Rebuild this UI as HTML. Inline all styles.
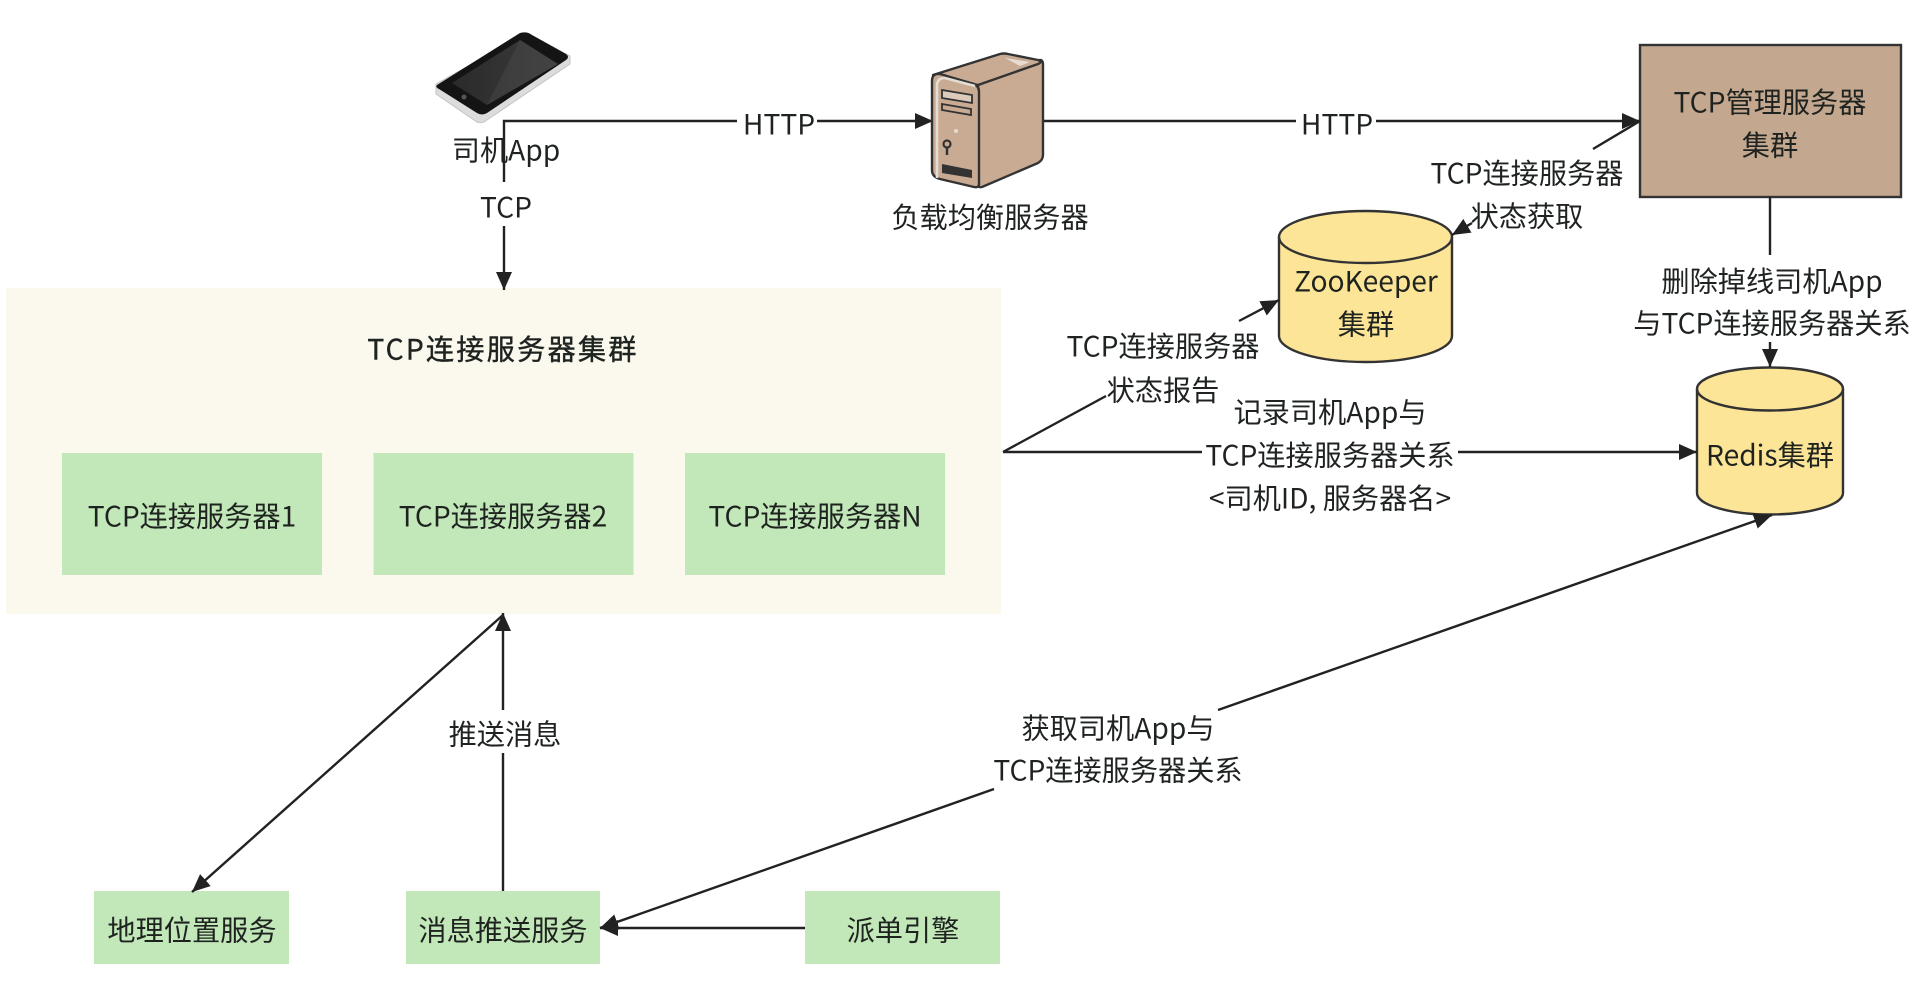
<!DOCTYPE html>
<html lang="zh">
<head>
<meta charset="utf-8">
<title>TCP连接服务器架构</title>
<style>
html,body{margin:0;padding:0;background:#fff;width:1920px;height:982px;overflow:hidden}
svg{display:block}
text{font-family:"Noto Sans CJK SC","Liberation Sans",sans-serif;font-size:28.2px;fill:#1f2320;text-anchor:middle;dominant-baseline:central}
.l{stroke:#222;stroke-width:2.4;fill:none}
.cyl{fill:#fde598;stroke:#333;stroke-width:2.4}
</style>
</head>
<body>
<svg width="1920" height="982" viewBox="0 0 1920 982" xmlns="http://www.w3.org/2000/svg">
<defs>
<marker id="a" markerUnits="userSpaceOnUse" markerWidth="18" markerHeight="16" refX="18" refY="8" orient="auto-start-reverse"><path d="M0,0L18,8L0,16z" fill="#222"/></marker>
<linearGradient id="scr" x1="0" y1="0" x2="1" y2="0"><stop offset="0" stop-color="#2a2a2a"/><stop offset="1" stop-color="#3c3c3c"/></linearGradient>
</defs>

<!-- cluster -->
<rect x="6" y="288" width="995" height="326" fill="#fbf8ee"/>
<rect x="62" y="453" width="260" height="122" fill="#c2e8b9"/>
<rect x="373.500" y="453" width="260" height="122" fill="#c2e8b9"/>
<rect x="685" y="453" width="260" height="122" fill="#c2e8b9"/>
<text x="503" y="348" style="letter-spacing:2.2px;stroke:#1f2320;stroke-width:.4px">TCP连接服务器集群</text>
<text x="192" y="515">TCP连接服务器1</text>
<text x="503" y="515">TCP连接服务器2</text>
<text x="815" y="515">TCP连接服务器N</text>

<!-- bottom boxes -->
<rect x="94" y="891" width="195" height="73" fill="#c2e8b9"/>
<rect x="406" y="891" width="194" height="73" fill="#c2e8b9"/>
<rect x="805" y="891" width="195" height="73" fill="#c2e8b9"/>
<text x="192" y="929">地理位置服务</text>
<text x="503" y="929">消息推送服务</text>
<text x="903" y="929">派单引擎</text>

<!-- brown box -->
<rect x="1640" y="45" width="261" height="152" fill="#c4a78f" stroke="#333" stroke-width="2.400"/>
<text x="1770" y="101">TCP管理服务器</text>
<text x="1770" y="144">集群</text>

<!-- cylinders -->
<path class="cyl" d="M1279,237V336A86.500,26 0 0 0 1452,336V237A86.500,26 0 0 0 1279,237Z"/>
<path class="l" style="stroke:#333" d="M1279,237A86.500,26 0 0 0 1452,237"/>
<text x="1366" y="280">ZooKeeper</text>
<text x="1366" y="323">集群</text>

<path class="cyl" d="M1697,389V493A73,21.500 0 0 0 1843,493V389A73,21.500 0 0 0 1697,389Z"/>
<path class="l" style="stroke:#333" d="M1697,389A73,21.500 0 0 0 1843,389"/>
<text x="1770" y="454">Redis集群</text>

<!-- connectors -->
<path class="l" d="M504,182V121H737"/>
<path class="l" d="M817,121H933" marker-end="url(#a)"/>
<path class="l" d="M504,226V290" marker-end="url(#a)"/>
<path class="l" d="M1042,121H1296"/>
<path class="l" d="M1376,121H1640" marker-end="url(#a)"/>
<path class="l" d="M1640,121L1593,149"/>
<path class="l" d="M1472,223L1452,235" marker-end="url(#a)"/>
<path class="l" d="M1770,197V255"/>
<path class="l" d="M1770,342V367" marker-end="url(#a)"/>
<path class="l" d="M1003,452L1106,396"/>
<path class="l" d="M1239,321L1279,300" marker-end="url(#a)"/>
<path class="l" d="M1003,452H1202"/>
<path class="l" d="M1458,452H1697" marker-end="url(#a)"/>
<path class="l" d="M503,615L192,892" marker-end="url(#a)"/>
<path class="l" d="M503,891V753"/>
<path class="l" d="M503,710V613" marker-end="url(#a)"/>
<path class="l" d="M805,928H600" marker-end="url(#a)"/>
<path class="l" d="M994,789L600,928" marker-end="url(#a)"/>
<path class="l" d="M1218,710L1772,515" marker-end="url(#a)"/>

<!-- labels -->
<text x="506" y="149">司机App</text>
<text x="506" y="206">TCP</text>
<text x="779" y="123">HTTP</text>
<text x="1337" y="123">HTTP</text>
<text x="990" y="216">负载均衡服务器</text>
<text x="1527" y="172">TCP连接服务器</text>
<text x="1527" y="215">状态获取</text>
<text x="1772" y="280">删除掉线司机App</text>
<text x="1772" y="322">与TCP连接服务器关系</text>
<text x="1163" y="345">TCP连接服务器</text>
<text x="1163" y="389">状态报告</text>
<text x="1330" y="411">记录司机App与</text>
<text x="1330" y="454">TCP连接服务器关系</text>
<text x="1330" y="497">&lt;司机ID, 服务器名&gt;</text>
<text x="505" y="733">推送消息</text>
<text x="1118" y="727">获取司机App与</text>
<text x="1118" y="769">TCP连接服务器关系</text>

<!-- phone -->
<path d="M436,84V94L477,122Q482,124 487,120L570,64V56L527,33Z" fill="#dcdcdc" stroke="#c4c4c4"/>
<path d="M437,85L520,33Q527,31 532,35L566,54Q570,57 566,60L487,113Q482,116 477,113L439,89Q435,87 437,85Z" fill="#141414"/>
<path d="M452,83L520,40L558,64L487,105Z" fill="url(#scr)"/>
<path d="M520,40L558,64L487,105Z" fill="#555" opacity=".3"/>
<circle cx="464" cy="97" r="2.500" fill="#555"/>

<!-- server -->
<path d="M978,85L1040,60Q1043,60 1043,65V155Q1043,160 1038,163L982,187Q978,188 978,184Z" fill="#c9ab93" stroke="#333" stroke-width="2.400" stroke-linejoin="round"/>
<path d="M933,75L1000,54Q1004,53 1008,54L1038,60Q1043,62 1038,64L978,85Z" fill="#c9ab93" stroke="#333" stroke-width="2.400" stroke-linejoin="round"/>
<path d="M1005,58L1030,62L1020,66Z" fill="#e6dcd2"/>
<path d="M940,74L974,84Q979,86 979,92V184Q979,188 974,187L940,179Q932,177 932,170V81Q932,73 940,74Z" fill="#c9ab93" stroke="#333" stroke-width="2.400"/>
<path d="M937,178V84Q938,78 945,78L975,86" fill="none" stroke="#e3ddd5" stroke-width="2.500"/>
<path d="M942,90L972,95V103L942,98Z" fill="#dccabb" stroke="#333" stroke-width="1.800"/>
<path d="M942,104L971,109V115L942,110Z" fill="#c9ab93" stroke="#333" stroke-width="1.800"/>
<circle cx="947" cy="144" r="3.500" fill="none" stroke="#333" stroke-width="2.200"/>
<path d="M947,147V155" stroke="#333" stroke-width="2.500"/>
<path d="M942,164L972,170V178L942,173Z" fill="#333"/>
<circle cx="956" cy="131" r="2" fill="#e6dcd2"/>
</svg>
</body>
</html>
